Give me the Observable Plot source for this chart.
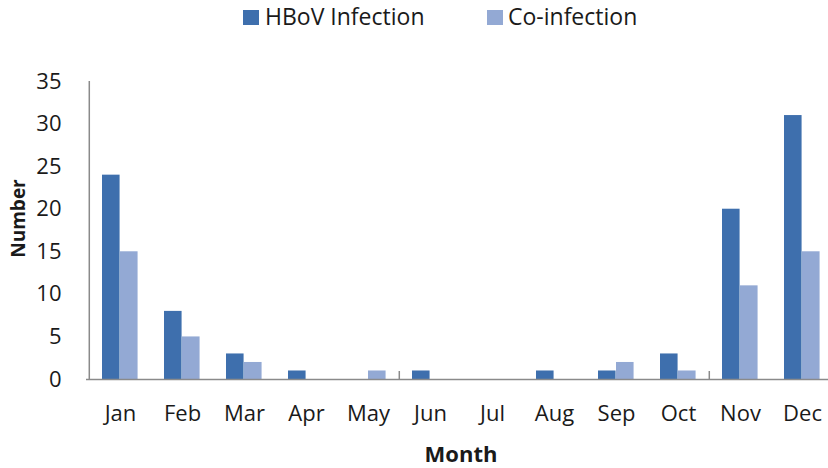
<!DOCTYPE html>
<html>
<head>
<meta charset="utf-8">
<script src="https://cdn.jsdelivr.net/npm/d3@7"></script>
<script src="https://cdn.jsdelivr.net/npm/@observablehq/plot@0.6"></script>
<style>
  html, body { margin: 0; padding: 0; background: #fff; }
  #chart { width: 828px; font-family: "Open Sans", sans-serif; color: #1a1a1a; }
  #legend { position: relative; height: 36px; font-size: 23px; }
  #legend .sw { position: absolute; top: 10px; width: 16px; height: 15px; }
  #legend .lb { position: absolute; top: 5px; line-height: 23px; white-space: nowrap; }
  svg { display: block; }
</style>
</head>
<body>
<div id="chart">
  <div id="legend"></div>
</div>
<script>
const months = ["Jan", "Feb", "Mar", "Apr", "May", "Jun", "Jul", "Aug", "Sep", "Oct", "Nov", "Dec"];
const hbov = [24, 8, 3, 1, 0, 1, 0, 1, 1, 3, 20, 31];
const coInfection = [15, 5, 2, 0, 1, 0, 0, 0, 2, 1, 11, 15];
const seriesNames = ["HBoV Infection", "Co-infection"];
const seriesColors = ["#3e6fad", "#93a9d4"];
const yTicks = [0, 5, 10, 15, 20, 25, 30, 35];
const boundaryTicks = ["Jun", "Nov"];
const xLabel = "Month";
const yLabel = "Number";

// legend
const legend = document.getElementById("legend");
const legendPos = [[243, 265], [487, 508]];
seriesNames.forEach((name, i) => {
  const sw = document.createElement("div");
  sw.className = "sw";
  sw.style.left = legendPos[i][0] + "px";
  sw.style.background = seriesColors[i];
  const lb = document.createElement("span");
  lb.className = "lb";
  lb.style.left = legendPos[i][1] + "px";
  lb.textContent = name;
  legend.appendChild(sw);
  legend.appendChild(lb);
});

const data = months.map((m, i) => ({month: m, hbov: hbov[i], co: coInfection[i]}));

const W = 828, H = 432;
const mL = 86, mR = -7, mT = 45, mB = 89;
const bw = (W - mL - mR) / months.length;
const axisColor = "#8a8a8a";

const plot = Plot.plot({
  width: W,
  height: H,
  marginLeft: mL,
  marginRight: mR,
  marginTop: mT,
  marginBottom: mB,
  style: {fontFamily: "Open Sans, sans-serif", fontSize: "22px", color: "#1a1a1a", background: "#fff", overflow: "hidden"},
  x: {domain: months, padding: 0},
  y: {domain: [0, 35]},
  marks: [
    Plot.barY(data, {x: "month", y: "hbov", fill: seriesColors[0], insetLeft: 13, insetRight: bw - 31}),
    Plot.barY(data, {x: "month", y: "co", fill: seriesColors[1], insetLeft: 31, insetRight: bw - 49}),
    Plot.ruleY([0], {stroke: axisColor, strokeWidth: 1.5}),
    Plot.ruleX([months[0]], {x: d => d, y1: 0, y2: 35, dx: -bw / 2, stroke: axisColor, strokeWidth: 1.5}),
    Plot.tickY(yTicks, {y: d => d, x: months[0], insetRight: bw - 7, stroke: axisColor, strokeWidth: 1.5}),
    Plot.ruleX(boundaryTicks, {x: d => d, y1: 0, y2: 0, insetTop: -8, dx: -bw / 2, stroke: axisColor, strokeWidth: 1.5}),
    Plot.axisY({ticks: yTicks, tickSize: 0, tickPadding: 25, fontSize: 22, label: null}),
    Plot.axisX({tickSize: 0, tickPadding: 26, fontSize: 22, label: null}),
    Plot.text([yLabel], {text: d => d, frameAnchor: "left", textAnchor: "middle", dx: -68, dy: -12, rotate: -90, fontWeight: "bold", fontSize: 19}),
    Plot.text([xLabel], {text: d => d, frameAnchor: "bottom", textAnchor: "middle", dy: 82, fontWeight: "bold", fontSize: 22})
  ]
});
document.getElementById("chart").appendChild(plot);
</script>
</body>
</html>
